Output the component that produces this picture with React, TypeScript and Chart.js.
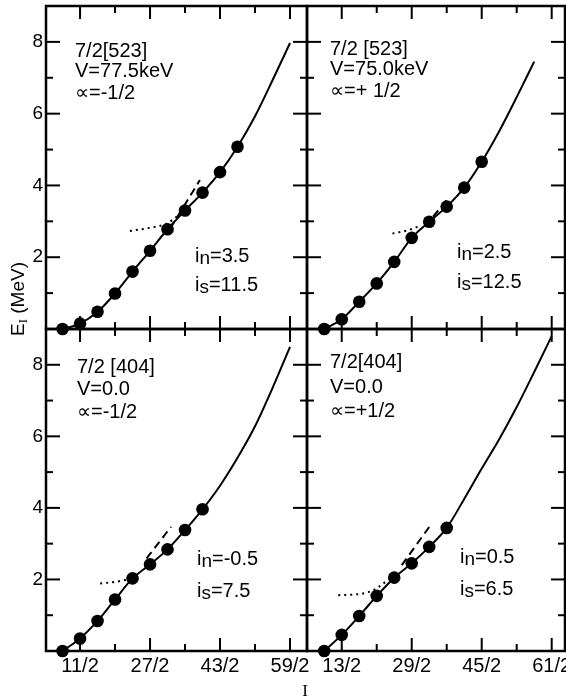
import React, { useEffect, useRef } from 'react';
import { Chart, registerables } from 'chart.js';

Chart.register(...registerables);

const PAGE_W = 566;
const PAGE_H = 697;

// ---------------- Data ----------------
// Top-left: 7/2[523], alpha = -1/2
const spinTL = [7 / 2, 11 / 2, 15 / 2, 19 / 2, 23 / 2, 27 / 2, 31 / 2, 35 / 2, 39 / 2, 43 / 2, 47 / 2];
const energyTL = [0, 0.15, 0.48, 0.99, 1.6, 2.18, 2.78, 3.3, 3.8, 4.37, 5.08];
const fitSpinTL = [7 / 2, 11 / 2, 15 / 2, 19 / 2, 23 / 2, 27 / 2, 31 / 2, 35 / 2, 39 / 2, 43 / 2, 47 / 2, 51 / 2, 55 / 2, 59 / 2];
const fitEnergyTL = [0, 0.15, 0.48, 0.99, 1.6, 2.18, 2.78, 3.3, 3.8, 4.37, 5.08, 5.93, 6.93, 7.97];
const dashSpinTL = [15.8, 19.2];
const dashEnergyTL = [2.8, 4.15];
const dotSpinTL = [11.2, 13.9, 15.5, 17.6];
const dotEnergyTL = [2.73, 2.84, 2.95, 3.35];

// Top-right: 7/2[523], alpha = +1/2
const spinTR = [9 / 2, 13 / 2, 17 / 2, 21 / 2, 25 / 2, 29 / 2, 33 / 2, 37 / 2, 41 / 2, 45 / 2];
const energyTR = [0, 0.27, 0.76, 1.27, 1.87, 2.54, 2.99, 3.41, 3.94, 4.66];
const fitSpinTR = [9 / 2, 13 / 2, 17 / 2, 21 / 2, 25 / 2, 29 / 2, 33 / 2, 37 / 2, 41 / 2, 45 / 2, 49 / 2, 53 / 2, 57 / 2];
const fitEnergyTR = [0, 0.27, 0.76, 1.27, 1.87, 2.54, 2.99, 3.41, 3.94, 4.66, 5.51, 6.46, 7.45];
const dashSpinTR = [16.0, 18.8];
const dashEnergyTR = [2.85, 3.68];
const dotSpinTR = [12.3, 14.2, 15.5];
const dotEnergyTR = [2.66, 2.76, 2.88];

// Bottom-left: 7/2[404], alpha = -1/2
const spinBL = [7 / 2, 11 / 2, 15 / 2, 19 / 2, 23 / 2, 27 / 2, 31 / 2, 35 / 2, 39 / 2];
const energyBL = [0, 0.35, 0.84, 1.44, 2.03, 2.42, 2.84, 3.38, 3.96];
const fitSpinBL = [7 / 2, 11 / 2, 15 / 2, 19 / 2, 23 / 2, 27 / 2, 31 / 2, 35 / 2, 39 / 2, 43 / 2, 47 / 2, 51 / 2, 55 / 2, 59 / 2];
const fitEnergyBL = [0, 0.35, 0.84, 1.44, 2.03, 2.42, 2.84, 3.38, 3.96, 4.62, 5.4, 6.28, 7.35, 8.5];
const dashSpinBL = [13.1, 15.9];
const dashEnergyBL = [2.59, 3.47];
const dotSpinBL = [7.8, 9.5, 11.2];
const dotEnergyBL = [1.89, 1.93, 2.01];

// Bottom-right: 7/2[404], alpha = +1/2
const spinBR = [9 / 2, 13 / 2, 17 / 2, 21 / 2, 25 / 2, 29 / 2, 33 / 2, 37 / 2];
const energyBR = [0, 0.45, 0.98, 1.54, 2.05, 2.45, 2.91, 3.44];
const fitSpinBR = [9 / 2, 13 / 2, 17 / 2, 21 / 2, 25 / 2, 29 / 2, 33 / 2, 37 / 2, 41 / 2, 45 / 2, 49 / 2, 53 / 2, 57 / 2, 61 / 2];
const fitEnergyBR = [0, 0.45, 0.98, 1.54, 2.05, 2.45, 2.91, 3.44, 4.25, 5.1, 5.92, 6.82, 7.8, 8.8];
const dashSpinBR = [13.36, 16.8];
const dashEnergyBR = [2.4, 3.57];
const dotSpinBR = [6.1, 8.0, 9.5, 10.6, 11.6];
const dotEnergyBR = [1.56, 1.58, 1.64, 1.77, 1.95];

// Ticks
const xTicksLeft = [11 / 2, 19 / 2, 27 / 2, 35 / 2, 43 / 2, 51 / 2, 59 / 2];
const xTickLabelsLeft = ['11/2', '', '27/2', '', '43/2', '', '59/2'];
const xTicksRight = [13 / 2, 21 / 2, 29 / 2, 37 / 2, 45 / 2, 53 / 2, 61 / 2];
const xTickLabelsRight = ['13/2', '', '29/2', '', '45/2', '', '61/2'];
const yTicks = [1, 2, 3, 4, 5, 6, 7, 8];
const yTickLabels = ['', '2', '', '4', '', '6', '', '8'];

// Text
const titlesTL = ['7/2[523]', 'V=77.5keV', '\u221D=-1/2'];
const titlesTR = ['7/2 [523]', 'V=75.0keV', '\u221D=+ 1/2'];
const titlesBL = ['7/2 [404]', 'V=0.0', '\u221D=-1/2'];
const titlesBR = ['7/2[404]', 'V=0.0', '\u221D=+1/2'];
const paramsTL = [['n', '3.5'], ['s', '11.5']];
const paramsTR = [['n', '2.5'], ['s', '12.5']];
const paramsBL = [['n', '-0.5'], ['s', '7.5']];
const paramsBR = [['n', '0.5'], ['s', '6.5']];

// ---------------- Layout / styles ----------------
type Rect = { left: number; top: number; right: number; bottom: number };
type Panel = {
  rect: Rect;
  xMin: number;
  xMax: number;
  xTicks: number[];
  xLabels: string[];
  showX: boolean;
  showY: boolean;
  spin: number[];
  energy: number[];
  fitSpin: number[];
  fitEnergy: number[];
  dashSpin: number[];
  dashEnergy: number[];
  dotSpin: number[];
  dotEnergy: number[];
  titles: string[];
  titleX: number;
  titleY: number[];
  params: string[][];
  paramX: number;
  paramY: number[];
  axisTitles: boolean;
};

const FONT = '"Liberation Sans", Arial, sans-serif';
const SERIF = '"Liberation Serif", "Times New Roman", serif';
const AXIS_BOX = 40;

const panels: Panel[] = [
  {
    rect: { left: 46, top: 6, right: 307, bottom: 329 },
    xMin: 1.61, xMax: 31.44, xTicks: xTicksLeft, xLabels: xTickLabelsLeft,
    showX: false, showY: true,
    spin: spinTL, energy: energyTL, fitSpin: fitSpinTL, fitEnergy: fitEnergyTL,
    dashSpin: dashSpinTL, dashEnergy: dashEnergyTL, dotSpin: dotSpinTL, dotEnergy: dotEnergyTL,
    titles: titlesTL, titleX: 75, titleY: [57, 77, 99],
    params: paramsTL, paramX: 195, paramY: [262, 291],
    axisTitles: true,
  },
  {
    rect: { left: 307, top: 6, right: 565, bottom: 329 },
    xMin: 2.53, xMax: 32.02, xTicks: xTicksRight, xLabels: xTickLabelsRight,
    showX: false, showY: false,
    spin: spinTR, energy: energyTR, fitSpin: fitSpinTR, fitEnergy: fitEnergyTR,
    dashSpin: dashSpinTR, dashEnergy: dashEnergyTR, dotSpin: dotSpinTR, dotEnergy: dotEnergyTR,
    titles: titlesTR, titleX: 330, titleY: [55, 75, 97],
    params: paramsTR, paramX: 457, paramY: [258, 288],
    axisTitles: false,
  },
  {
    rect: { left: 46, top: 329, right: 307, bottom: 651 },
    xMin: 1.61, xMax: 31.44, xTicks: xTicksLeft, xLabels: xTickLabelsLeft,
    showX: true, showY: true,
    spin: spinBL, energy: energyBL, fitSpin: fitSpinBL, fitEnergy: fitEnergyBL,
    dashSpin: dashSpinBL, dashEnergy: dashEnergyBL, dotSpin: dotSpinBL, dotEnergy: dotEnergyBL,
    titles: titlesBL, titleX: 77, titleY: [373, 395, 418],
    params: paramsBL, paramX: 197, paramY: [565, 597],
    axisTitles: false,
  },
  {
    rect: { left: 307, top: 329, right: 565, bottom: 651 },
    xMin: 2.53, xMax: 32.02, xTicks: xTicksRight, xLabels: xTickLabelsRight,
    showX: true, showY: false,
    spin: spinBR, energy: energyBR, fitSpin: fitSpinBR, fitEnergy: fitEnergyBR,
    dashSpin: dashSpinBR, dashEnergy: dashEnergyBR, dotSpin: dotSpinBR, dotEnergy: dotEnergyBR,
    titles: titlesBR, titleX: 330, titleY: [368, 393, 417],
    params: paramsBR, paramX: 460, paramY: [563, 595],
    axisTitles: false,
  },
];

const pts = (xs: number[], ys: number[]) => xs.map((x, i) => ({ x, y: ys[i] }));

function makePlugin(p: Panel) {
  return {
    id: 'panelDecor',
    beforeDatasetsDraw(chart: any) {
      const { ctx, chartArea: a, scales } = chart;
      ctx.save();
      ctx.strokeStyle = '#000';
      ctx.lineWidth = 2.5;
      ctx.strokeRect(a.left, a.top, a.right - a.left, a.bottom - a.top);
      ctx.lineWidth = 2;
      const seg = (x1: number, y1: number, x2: number, y2: number) => {
        ctx.beginPath();
        ctx.moveTo(x1, y1);
        ctx.lineTo(x2, y2);
        ctx.stroke();
      };
      scales.x.ticks.forEach((t: any, i: number) => {
        const px = scales.x.getPixelForValue(t.value);
        const len = p.xLabels[i] ? 13 : 7;
        seg(px, a.bottom, px, a.bottom - len);
        seg(px, a.top, px, a.top + len);
      });
      scales.y.ticks.forEach((t: any, i: number) => {
        const py = scales.y.getPixelForValue(t.value);
        const len = yTickLabels[i] ? 14 : 7;
        seg(a.left, py, a.left + len, py);
        seg(a.right, py, a.right - len, py);
      });
      ctx.restore();
    },
    afterDraw(chart: any) {
      const { ctx } = chart;
      ctx.save();
      ctx.fillStyle = '#000';
      ctx.textAlign = 'left';
      ctx.textBaseline = 'alphabetic';
      ctx.font = `20px ${FONT}`;
      p.titles.forEach((t, i) => ctx.fillText(t, p.titleX, p.titleY[i]));
      p.params.forEach(([sub, val], i) => {
        let x = p.paramX;
        const y = p.paramY[i];
        ctx.font = `20px ${FONT}`;
        ctx.fillText('i', x, y);
        x += ctx.measureText('i').width;
        ctx.font = `19px ${FONT}`;
        ctx.fillText(sub, x, y + 2);
        x += ctx.measureText(sub).width;
        ctx.font = `20px ${FONT}`;
        ctx.fillText('=' + val, x, y);
      });
      if (p.axisTitles) {
        // y-axis title, rotated
        ctx.save();
        ctx.translate(16, 299);
        ctx.rotate(-Math.PI / 2);
        ctx.font = `19px ${FONT}`;
        const wE = ctx.measureText('E').width;
        ctx.font = `13px ${SERIF}`;
        const wI = ctx.measureText('I').width;
        ctx.font = `19px ${FONT}`;
        const wRest = ctx.measureText(' (MeV)').width;
        let x = -(wE + wI + wRest) / 2;
        ctx.fillText('E', x, 8);
        x += wE;
        ctx.font = `13px ${SERIF}`;
        ctx.fillText('I', x, 11);
        x += wI;
        ctx.font = `19px ${FONT}`;
        ctx.fillText(' (MeV)', x, 8);
        ctx.restore();
        // x-axis title
        ctx.font = `17px ${SERIF}`;
        ctx.textAlign = 'center';
        ctx.fillText('I', 305, 696);
      }
      ctx.restore();
    },
  };
}

function buildChart(canvas: HTMLCanvasElement, p: Panel) {
  const yBox = p.showY ? AXIS_BOX : 0;
  const xBox = p.showX ? AXIS_BOX : 0;
  return new Chart(canvas, {
    type: 'scatter',
    data: {
      datasets: [
        {
          label: 'levels',
          data: pts(p.spin, p.energy),
          showLine: false,
          pointRadius: 6.3,
          pointBackgroundColor: '#000',
          pointBorderColor: '#000',
          pointBorderWidth: 0,
          clip: false,
        } as any,
        {
          label: 'fit',
          data: pts(p.fitSpin, p.fitEnergy),
          showLine: true,
          borderColor: '#000',
          borderWidth: 2,
          pointRadius: 0,
          cubicInterpolationMode: 'monotone',
        },
        {
          label: 'dashed',
          data: pts(p.dashSpin, p.dashEnergy),
          showLine: true,
          borderColor: '#000',
          borderWidth: 2,
          borderDash: [8, 5],
          pointRadius: 0,
        },
        {
          label: 'dotted',
          data: pts(p.dotSpin, p.dotEnergy),
          showLine: true,
          borderColor: '#000',
          borderWidth: 2,
          borderDash: [2, 4],
          pointRadius: 0,
          cubicInterpolationMode: 'monotone',
        },
      ],
    },
    options: {
      animation: false,
      responsive: false,
      devicePixelRatio: 1,
      events: [],
      layout: {
        autoPadding: false,
        padding: {
          left: p.rect.left - yBox,
          top: p.rect.top,
          right: PAGE_W - p.rect.right,
          bottom: PAGE_H - p.rect.bottom - xBox,
        },
      },
      plugins: {
        legend: { display: false },
        tooltip: { enabled: false },
        title: { display: false },
      },
      scales: {
        x: {
          type: 'linear',
          position: 'bottom',
          min: p.xMin,
          max: p.xMax,
          afterBuildTicks: (s: any) => {
            s.ticks = p.xTicks.map((v) => ({ value: v }));
          },
          afterFit: (s: any) => {
            s.height = xBox;
            s.paddingLeft = 0;
            s.paddingRight = 0;
            s.paddingTop = 0;
            s.paddingBottom = 0;
          },
          grid: { display: false, drawTicks: false },
          border: { display: false },
          ticks: {
            display: p.showX,
            autoSkip: false,
            maxRotation: 0,
            minRotation: 0,
            padding: 3,
            color: '#000',
            font: { family: FONT, size: 20 },
            callback: (_v: any, i: number) => p.xLabels[i],
          },
        },
        y: {
          type: 'linear',
          position: 'left',
          min: 0,
          max: 9,
          afterBuildTicks: (s: any) => {
            s.ticks = yTicks.map((v) => ({ value: v }));
          },
          afterFit: (s: any) => {
            s.width = yBox;
            s.paddingLeft = 0;
            s.paddingRight = 0;
            s.paddingTop = 0;
            s.paddingBottom = 0;
          },
          grid: { display: false, drawTicks: false },
          border: { display: false },
          ticks: {
            display: p.showY,
            autoSkip: false,
            padding: 3,
            color: '#000',
            font: { family: FONT, size: 19 },
            callback: (_v: any, i: number) => yTickLabels[i],
          },
        },
      },
    } as any,
    plugins: [makePlugin(p)],
  });
}

export default function App() {
  const refs = [
    useRef<HTMLCanvasElement>(null),
    useRef<HTMLCanvasElement>(null),
    useRef<HTMLCanvasElement>(null),
    useRef<HTMLCanvasElement>(null),
  ];

  useEffect(() => {
    const charts = panels.map((p, i) => buildChart(refs[i].current as HTMLCanvasElement, p));
    return () => charts.forEach((c) => c.destroy());
  }, []);

  return (
    <div
      style={{
        position: 'absolute',
        left: 0,
        top: 0,
        width: PAGE_W,
        height: PAGE_H,
        overflow: 'hidden',
        background: '#fff',
      }}
    >
      {refs.map((r, i) => (
        <canvas
          key={i}
          ref={r}
          width={PAGE_W}
          height={PAGE_H}
          style={{ position: 'absolute', left: 0, top: 0, width: PAGE_W, height: PAGE_H }}
        />
      ))}
    </div>
  );
}
